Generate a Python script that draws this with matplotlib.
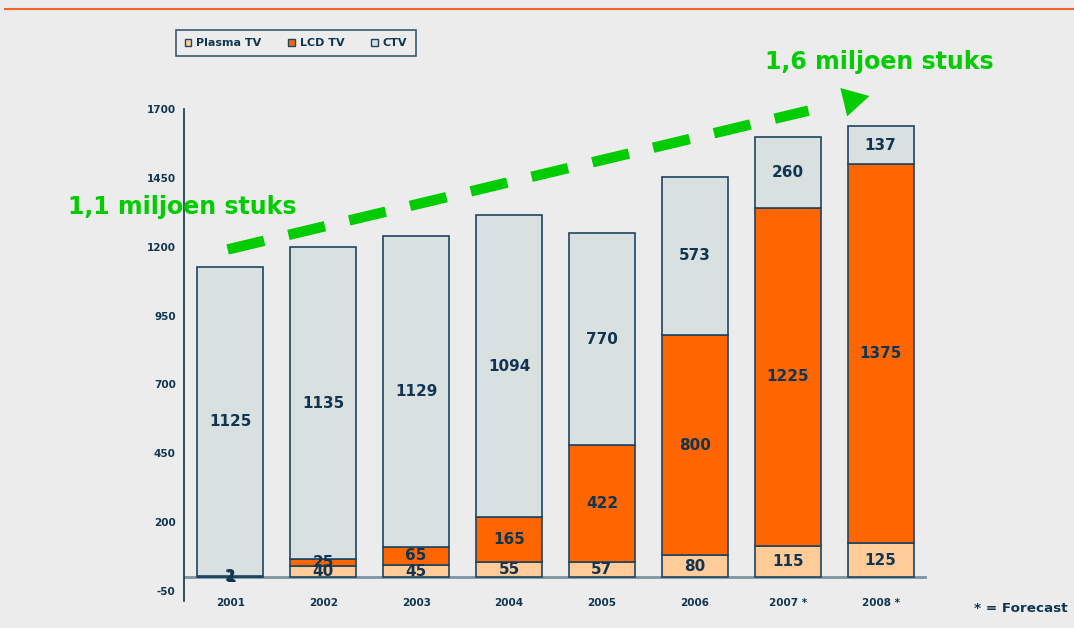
import matplotlib.pyplot as plt
from matplotlib.lines import Line2D
from matplotlib.patches import Patch
import numpy as np

# data
years = ["2001", "2002", "2003", "2004", "2005", "2006", "2007 *", "2008 *"]
plasma = [1, 40, 45, 55, 57, 80, 115, 125]
lcd = [2, 25, 65, 165, 422, 800, 1225, 1375]
ctv = [1125, 1135, 1129, 1094, 770, 573, 260, 137]
yticks = [-50, 200, 450, 700, 950, 1200, 1450, 1700]

bg = "#EBECEB"
navy = "#0F3552"
edge = "#1E4560"
green = "#00CC00"
colors = {"Plasma TV": "#FFCC99", "LCD TV": "#FF6600", "CTV": "#D9E0E0"}

fig = plt.figure(figsize=(10.74, 6.28), dpi=100, facecolor=bg)
ax = fig.add_axes([184 / 1074, 1 - 601 / 628, 743 / 1074, 492 / 628])
ax.set_facecolor(bg)

x = np.arange(len(years))
w = 0.71
bottom = np.zeros(len(years))
for name, vals in [("Plasma TV", plasma), ("LCD TV", lcd), ("CTV", ctv)]:
    vals = np.array(vals, dtype=float)
    ax.bar(x, vals, w, bottom=bottom, color=colors[name], edgecolor=edge,
           linewidth=1.2, zorder=3)
    for xi, b, v in zip(x, bottom, vals):
        ax.text(xi, b + v / 2, str(int(v)), ha="center", va="center",
                fontsize=11, fontweight="bold", color=navy, zorder=5)
    bottom += vals

ax.set_xlim(-0.5, 7.5)
ax.set_ylim(-86, 1700)
ax.set_yticks(yticks)
ax.set_yticklabels([str(t) for t in yticks], fontsize=7.5, fontweight="bold", color=navy)
ax.set_xticks(x)
ax.set_xticklabels(years, fontsize=7.5, fontweight="bold", color=navy)
ax.tick_params(axis="y", length=0, pad=6)
ax.tick_params(axis="x", length=0, pad=-2)
for s in ["top", "right", "bottom"]:
    ax.spines[s].set_visible(False)
ax.spines["left"].set_color(navy)
ax.spines["left"].set_linewidth(1.2)
ax.axhline(0, color="#7F93A0", lw=2, zorder=2)

# green trend arrow
x0, y0 = -0.03, 1190
x1, y1 = 6.88, 1747
t = 0.905
ax.plot([x0, x0 + (x1 - x0) * t], [y0, y0 + (y1 - y0) * t], color=green, lw=7.5,
        dashes=(3.6, 2.4), solid_capstyle="butt", clip_on=False, zorder=6)
ax.annotate("", xy=(x1, y1), xytext=(x0 + (x1 - x0) * 0.94, y0 + (y1 - y0) * 0.94),
            arrowprops=dict(arrowstyle="-|>,head_length=1.9,head_width=1.05",
                            color=green, lw=0, shrinkA=0, shrinkB=0),
            annotation_clip=False, zorder=6)

fig.text(68 / 1074, 1 - 207 / 628, "1,1 miljoen stuks", fontsize=17, fontweight="bold",
         color=green, ha="left", va="center")
fig.text(765 / 1074, 1 - 62 / 628, "1,6 miljoen stuks", fontsize=17, fontweight="bold",
         color=green, ha="left", va="center")
fig.text(1068 / 1074, 1 - 609 / 628, "* = Forecast", fontsize=9.7, fontweight="bold",
         color=navy, ha="right", va="center")

# top orange rule
fig.add_artist(Line2D([5 / 1074, 1], [1 - 9 / 628] * 2, color="#F26522", lw=1.5))

handles = [Patch(facecolor=colors[n], edgecolor=edge, label=n) for n in colors]
leg = fig.legend(handles=handles, loc="center", bbox_to_anchor=(296 / 1074, 1 - 43 / 628),
                 ncol=3, frameon=True, handlelength=0.6, handleheight=0.6,
                 handletextpad=0.45, columnspacing=2.4, borderpad=0.75, fancybox=False,
                 prop={"weight": "bold", "size": 8})
leg.get_frame().set_edgecolor(navy)
leg.get_frame().set_facecolor(bg)
leg.get_frame().set_linewidth(1.2)
for txt in leg.get_texts():
    txt.set_color(navy)

plt.savefig("out.png", dpi=100, facecolor=bg)
